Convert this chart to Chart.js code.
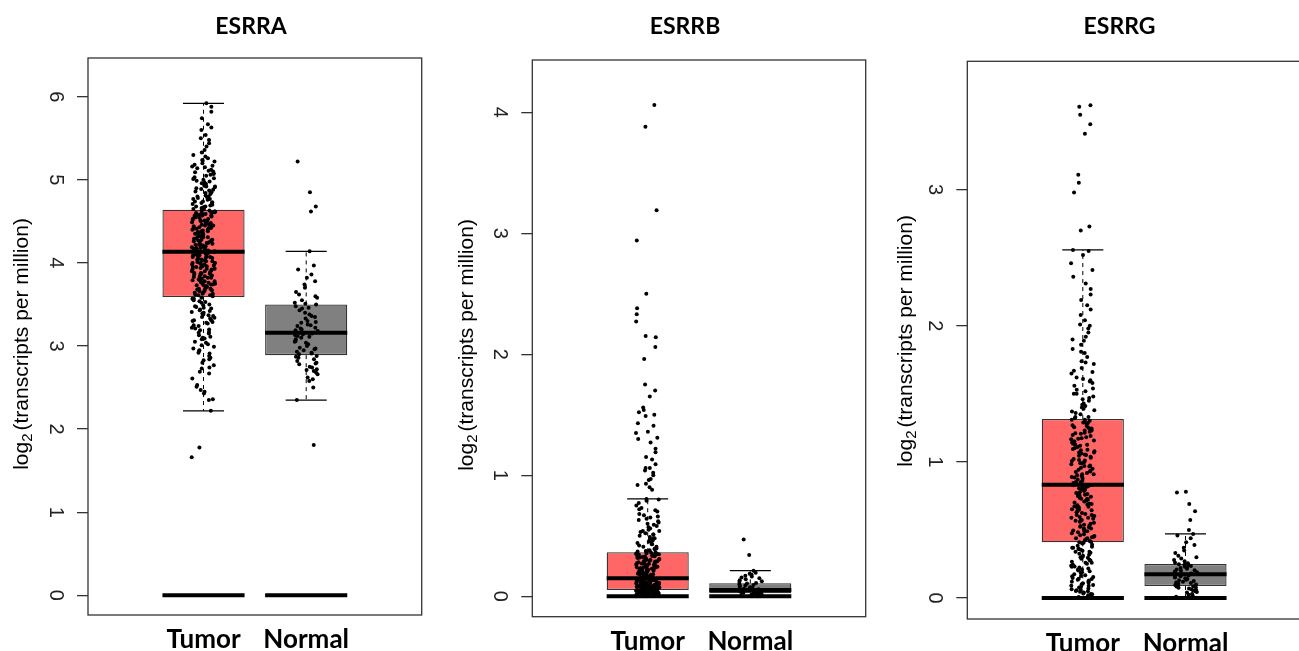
<!DOCTYPE html>
<html>
<head>
<meta charset="utf-8">
<title>ESRRA / ESRRB / ESRRG expression</title>
<script src="https://cdn.jsdelivr.net/npm/chart.js@4.4.1/dist/chart.umd.min.js"></script>
<style>
  html, body { margin: 0; padding: 0; background: #fff; overflow: hidden; }
  #wrap { position: relative; width: 1299px; height: 651px; overflow: hidden; background: #fff; }
  #wrap canvas { position: absolute; left: 0; top: 0; }
</style>
</head>
<body>
<div id="wrap">
  <canvas id="chartA" width="1320" height="651"></canvas>
  <canvas id="chartB" width="1320" height="651"></canvas>
  <canvas id="chartC" width="1320" height="651"></canvas>
</div>
<script>
// ---- data ----
const genes = ["ESRRA", "ESRRB", "ESRRG"];
const groups = ["Tumor", "Normal"];

// box stats: [lower whisker, Q1, median, Q3, upper whisker]
const esrraTumorBox = [2.22, 3.59, 4.135, 4.64, 5.92];
const esrraNormalBox = [2.35, 2.89, 3.16, 3.50, 4.14];
const esrrbTumorBox = [0, 0.052, 0.149, 0.364, 0.804];
const esrrbNormalBox = [0, 0.025, 0.052, 0.107, 0.212];
const esrrgTumorBox = [0, 0.409, 0.833, 1.315, 2.557];
const esrrgNormalBox = [0, 0.088, 0.174, 0.25, 0.472];

// individual samples (log2 TPM)
const esrraTumor = [
  1.66, 1.78, 2.22, 2.35, 2.36, 2.43, 2.45, 2.47, 2.51, 2.53, 2.61, 2.67, 2.69, 2.73, 2.74, 2.77, 2.8, 2.83, 2.84, 2.88,
  2.91, 2.92, 2.95, 2.97, 2.99, 3.01, 3.04, 3.05, 3.08, 3.1, 3.11, 3.13, 3.16, 3.17, 3.19, 3.21, 3.22, 3.25, 3.27, 3.28,
  3.3, 3.31, 3.33, 3.35, 3.37, 3.38, 3.4, 3.42, 3.44, 3.45, 3.47, 3.49, 3.52, 3.54, 3.57,
  3.6, 3.61, 3.63, 3.64, 3.66, 3.67, 3.69, 3.7, 3.71, 3.73, 3.74, 3.75, 3.77, 3.78, 3.79, 3.8, 3.82, 3.83, 3.84, 3.85,
  3.87, 3.88, 3.89, 3.9, 3.91, 3.93, 3.94, 3.95, 3.96, 3.97, 3.98, 3.99, 4.0, 4.01, 4.02, 4.03, 4.04, 4.05, 4.06, 4.07,
  4.08, 4.09, 4.1, 4.11, 4.12, 4.13, 3.62, 3.68, 3.72, 3.76, 3.81, 3.86, 3.92, 4.0, 4.06,
  4.15, 4.16, 4.18, 4.19, 4.2, 4.21, 4.23, 4.24, 4.25, 4.26, 4.28, 4.29, 4.3, 4.31, 4.33, 4.34, 4.35, 4.36, 4.37, 4.39,
  4.4, 4.41, 4.42, 4.43, 4.45, 4.46, 4.47, 4.48, 4.49, 4.5, 4.51, 4.53, 4.54, 4.55, 4.56, 4.57, 4.58, 4.59, 4.6, 4.61,
  4.62, 4.63, 4.17, 4.22, 4.27, 4.32, 4.38, 4.44, 4.52, 4.57, 4.62, 4.19, 4.35, 4.47, 4.6,
  4.65, 4.66, 4.68, 4.69, 4.7, 4.72, 4.73, 4.74, 4.76, 4.77, 4.79, 4.8, 4.81, 4.83, 4.84, 4.86, 4.87, 4.89, 4.9, 4.92,
  4.93, 4.95, 4.97, 4.98, 5.0, 5.02, 5.03, 5.05, 5.07, 5.09, 5.1, 5.12, 5.14, 5.16, 5.18, 5.2, 5.22, 5.24, 5.26, 5.28,
  5.3, 5.33, 5.36, 5.4, 5.44, 5.48, 5.5, 5.54, 5.6, 5.63, 5.67, 5.74, 5.82, 5.88, 5.92,
  3.31, 3.36, 3.41, 3.46, 3.5, 3.55, 3.58, 3.61, 3.64, 3.66, 3.69, 3.72, 3.74, 3.77, 3.79, 3.82, 3.85, 3.87, 3.9, 3.92,
  3.95, 3.97, 4.0, 4.02, 4.04, 4.07, 4.09, 4.12, 4.14, 4.16, 4.19, 4.21, 4.23, 4.26, 4.28, 4.31, 4.33, 4.35, 4.38, 4.4,
  4.43, 4.45, 4.48, 4.5, 4.53, 4.55, 4.58, 4.6, 4.63, 4.65, 4.68, 4.71, 4.74, 4.77, 4.8, 4.84, 4.88, 4.92, 4.96, 5.01,
  5.06, 5.11, 5.17, 5.23, 2.86, 2.94, 3.02, 3.09, 3.15, 3.2, 3.24, 3.29, 3.34, 3.39, 3.43, 3.48, 3.53, 3.57, 3.63, 3.68,
  3.73, 3.78, 3.83, 3.88, 3.93, 3.98, 4.03, 4.08, 4.13, 4.18, 4.22, 4.27, 4.32, 4.37, 4.42, 4.46, 4.51, 4.56, 4.61, 4.67,
  4.72, 4.78, 4.85, 4.91, 4.99, 5.08, 5.15, 3.75, 3.96, 4.24, 4.41, 4.57, 3.86, 4.11
];
const esrraNormal = [
  1.81, 2.35, 2.5, 2.58, 2.6, 2.62, 2.66, 2.68, 2.7, 2.72, 2.74, 2.75, 2.78, 2.8, 2.82, 2.84, 2.86, 2.87, 2.88,
  2.9, 2.92, 2.93, 2.95, 2.96, 2.98, 3.0, 3.02, 3.04, 3.06, 3.08, 3.1, 3.11, 3.13, 3.14, 3.15,
  3.17, 3.18, 3.19, 3.2, 3.22, 3.24, 3.26, 3.28, 3.3, 3.33, 3.36, 3.38, 3.4, 3.43, 3.46, 3.48,
  3.51, 3.52, 3.55, 3.58, 3.62, 3.65, 3.7, 3.74, 3.78, 3.82, 3.86, 3.92, 3.97, 4.14, 4.62, 4.68, 4.85, 5.22,
  2.71, 2.79, 2.91, 2.97, 3.05, 3.12, 3.16, 3.21, 3.25, 3.29, 3.35, 3.45, 3.5, 3.6
];
const esrrbTumor = [
  0.0, 0.002, 0.003, 0.005, 0.006, 0.008, 0.009, 0.011, 0.012, 0.013, 0.015, 0.016, 0.018, 0.019, 0.02, 0.021, 0.023,
  0.024, 0.025, 0.027, 0.028, 0.029, 0.03, 0.031, 0.033, 0.034, 0.035, 0.036, 0.037, 0.038, 0.039, 0.04, 0.041, 0.042,
  0.043, 0.044, 0.045, 0.046, 0.047, 0.048, 0.049, 0.05, 0.051, 0.001, 0.004, 0.007, 0.01, 0.014, 0.017, 0.022, 0.026,
  0.032, 0.038, 0.044, 0.049,
  0.053, 0.055, 0.057, 0.058, 0.06, 0.062, 0.064, 0.065, 0.067, 0.069, 0.071, 0.072, 0.074, 0.076, 0.078, 0.079, 0.081,
  0.083, 0.085, 0.086, 0.088, 0.09, 0.092, 0.093, 0.095, 0.097, 0.099, 0.1, 0.102, 0.104, 0.106, 0.108, 0.11, 0.112,
  0.114, 0.116, 0.118, 0.12, 0.122, 0.124, 0.126, 0.128, 0.13, 0.132, 0.134, 0.136, 0.138, 0.14, 0.142, 0.144, 0.146,
  0.148, 0.061, 0.087, 0.113,
  0.151, 0.155, 0.158, 0.162, 0.166, 0.17, 0.173, 0.177, 0.181, 0.185, 0.189, 0.193, 0.197, 0.2, 0.204, 0.208, 0.212,
  0.216, 0.22, 0.224, 0.228, 0.232, 0.236, 0.24, 0.244, 0.248, 0.252, 0.256, 0.26, 0.264, 0.268, 0.272, 0.276, 0.28,
  0.284, 0.288, 0.292, 0.296, 0.3, 0.304, 0.308, 0.312, 0.316, 0.32, 0.324, 0.328, 0.332, 0.336, 0.34, 0.344, 0.348,
  0.352, 0.356, 0.36, 0.363,
  0.37, 0.375, 0.38, 0.39, 0.395, 0.4, 0.41, 0.42, 0.43, 0.44, 0.45, 0.46, 0.47, 0.48, 0.49, 0.5, 0.51, 0.52, 0.53,
  0.54, 0.55, 0.56, 0.57, 0.59, 0.6, 0.62, 0.63, 0.65, 0.66, 0.68, 0.7, 0.71, 0.73, 0.75, 0.77, 0.79, 0.8, 0.804,
  0.88, 0.9, 0.92, 0.93, 0.96, 0.97, 1.0, 1.02, 1.04, 1.06, 1.06, 1.09, 1.13, 1.15, 1.19, 1.22, 1.27, 1.3, 1.31, 1.35,
  1.36, 1.41, 1.43, 1.49, 1.5, 1.52, 1.54, 1.56, 1.65, 1.7, 1.75, 1.96, 2.06, 2.14, 2.15, 2.27, 2.33, 2.38, 2.5, 2.94,
  3.19, 3.88, 4.06,
  0.005, 0.012, 0.02, 0.028, 0.036, 0.045, 0.055, 0.064, 0.073, 0.082, 0.091, 0.1, 0.11, 0.12, 0.13, 0.14, 0.15, 0.16,
  0.17, 0.18, 0.19, 0.2, 0.21, 0.22, 0.23, 0.24, 0.25, 0.26, 0.27, 0.28, 0.29, 0.3, 0.31, 0.32, 0.33, 0.34, 0.35, 0.37,
  0.39, 0.41, 0.43, 0.45, 0.48, 0.51, 0.54, 0.58, 0.61, 0.64, 0.67, 0.72
];
const esrrbNormal = [
  0.0, 0.003, 0.006, 0.009, 0.011, 0.014, 0.016, 0.019, 0.021, 0.023, 0.024,
  0.026, 0.028, 0.031, 0.033, 0.036, 0.038, 0.041, 0.043, 0.046, 0.048, 0.05,
  0.054, 0.058, 0.062, 0.066, 0.07, 0.075, 0.079, 0.084, 0.089, 0.094, 0.1, 0.105,
  0.11, 0.118, 0.125, 0.133, 0.14, 0.148, 0.156, 0.163, 0.17, 0.178, 0.186, 0.195, 0.21, 0.34, 0.47
];
const esrrgTumor = [
  0.0, 0.008, 0.015, 0.02, 0.027, 0.033, 0.04, 0.046, 0.052, 0.058, 0.064, 0.07, 0.077, 0.083, 0.09, 0.096, 0.102,
  0.108, 0.115, 0.122, 0.128, 0.135, 0.141, 0.148, 0.155, 0.162, 0.168, 0.175, 0.182, 0.189, 0.196, 0.203, 0.21,
  0.217, 0.224, 0.231, 0.238, 0.245, 0.252, 0.259, 0.266, 0.274, 0.281, 0.288, 0.296, 0.303, 0.31, 0.318, 0.325,
  0.333, 0.34, 0.347, 0.355, 0.362, 0.37, 0.377, 0.385, 0.392, 0.4, 0.406,
  0.412, 0.419, 0.425, 0.434, 0.44, 0.447, 0.455, 0.461, 0.469, 0.476, 0.483, 0.49, 0.496, 0.504, 0.511, 0.518, 0.524,
  0.532, 0.539, 0.546, 0.553, 0.561, 0.567, 0.574, 0.582, 0.589, 0.596, 0.603, 0.61, 0.617, 0.624, 0.631, 0.638,
  0.645, 0.652, 0.659, 0.667, 0.674, 0.681, 0.688, 0.695, 0.702, 0.709, 0.716, 0.723, 0.73, 0.737, 0.744, 0.751,
  0.758, 0.765, 0.772, 0.779, 0.786, 0.793, 0.8, 0.807, 0.814, 0.821, 0.829,
  0.838, 0.846, 0.853, 0.862, 0.87, 0.878, 0.886, 0.894, 0.902, 0.91, 0.918, 0.926, 0.934, 0.942, 0.95, 0.958, 0.966,
  0.974, 0.982, 0.99, 0.998, 1.006, 1.014, 1.022, 1.03, 1.038, 1.046, 1.054, 1.062, 1.07, 1.078, 1.086, 1.094,
  1.102, 1.11, 1.118, 1.126, 1.134, 1.142, 1.15, 1.158, 1.166, 1.174, 1.182, 1.19, 1.198, 1.206, 1.214, 1.222,
  1.23, 1.238, 1.246, 1.254, 1.262, 1.27, 1.278, 1.286, 1.294, 1.302, 1.31,
  1.32, 1.33, 1.35, 1.36, 1.38, 1.39, 1.41, 1.43, 1.45, 1.46, 1.48, 1.5, 1.52, 1.54, 1.56, 1.58, 1.6, 1.62, 1.65,
  1.67, 1.69, 1.72, 1.74, 1.77, 1.8, 1.83, 1.86, 1.89, 1.92, 1.95, 1.98, 2.01, 2.04, 2.08, 2.12, 2.15, 2.19, 2.23,
  2.27, 2.31, 2.36, 2.41, 2.46, 2.52, 2.55, 2.557, 2.7, 2.73, 2.98, 3.05, 3.11, 3.41, 3.48, 3.55, 3.61, 3.62,
  0.03, 0.06, 0.09, 0.12, 0.16, 0.19, 0.23, 0.26, 0.3, 0.34, 0.37, 0.41, 0.45, 0.49, 0.53, 0.57, 0.61, 0.65, 0.69,
  0.73, 0.77, 0.81, 0.85, 0.89, 0.93, 0.97, 1.01, 1.05, 1.09, 1.13, 1.17, 1.21, 1.25, 1.29, 1.33, 1.37, 1.42, 1.47,
  1.53, 1.59, 1.66, 1.73, 1.81, 1.9, 2.0, 0.05, 0.14, 0.21, 0.28, 0.36, 0.44, 0.51, 0.59, 0.67, 0.75, 0.83, 0.91,
  0.99, 1.07, 1.15, 1.23, 1.31, 1.4, 1.5, 1.61
];
const esrrgNormal = [
  0.0, 0.01, 0.02, 0.025, 0.03, 0.04, 0.045, 0.05, 0.055, 0.06, 0.065, 0.07, 0.075, 0.08, 0.085, 0.087,
  0.09, 0.095, 0.1, 0.105, 0.11, 0.115, 0.12, 0.125, 0.13, 0.135, 0.14, 0.145, 0.15, 0.155, 0.16, 0.165, 0.17,
  0.175, 0.18, 0.185, 0.19, 0.195, 0.2, 0.205, 0.21, 0.215, 0.22, 0.225, 0.23, 0.235, 0.24, 0.245, 0.249,
  0.255, 0.26, 0.27, 0.28, 0.29, 0.3, 0.31, 0.33, 0.35, 0.37, 0.39, 0.41, 0.44, 0.46, 0.47,
  0.5, 0.573, 0.637, 0.69, 0.776, 0.78
];

const esrraTicks = [0, 1, 2, 3, 4, 5, 6];
const esrrbTicks = [0, 1, 2, 3, 4];
const esrrgTicks = [0, 1, 2, 3];
const esrraRange = [-0.237, 6.466];
const esrrbRange = [-0.169, 4.432];
const esrrgRange = [-0.154, 3.943];
const xRange = [-0.125, 3.125];

// ---- look ----
const TUMOR_FILL = "#ff6666";
const NORMAL_FILL = "#808080";
const EDGE = "#333333";
const BOX_HALF = 0.4;
const CAP_HALF = 0.2;
const JITTER = 0.115;
const CANVAS_H = 651;
const Y_AXIS_W = 60;

const panels = [
  { id: "chartA", gene: genes[0], boxes: [esrraTumorBox, esrraNormalBox], samples: [esrraTumor, esrraNormal],
    ticks: esrraTicks, range: esrraRange, frame: { left: 88, top: 58, right: 421.7, bottom: 615 },
    titleX: 251, yTitle: { x: 22, y: 344 } },
  { id: "chartB", gene: genes[1], boxes: [esrrbTumorBox, esrrbNormalBox], samples: [esrrbTumor, esrrbNormal],
    ticks: esrrbTicks, range: esrrbRange, frame: { left: 532.3, top: 60, right: 865.7, bottom: 616.7 },
    titleX: 685, yTitle: { x: 467, y: 345 } },
  { id: "chartC", gene: genes[2], boxes: [esrrgTumorBox, esrrgNormalBox], samples: [esrrgTumor, esrrgNormal],
    ticks: esrrgTicks, range: esrrgRange, frame: { left: 967.3, top: 61.3, right: 1301, bottom: 619 },
    titleX: 1119.5, yTitle: { x: 906, y: 341 } }
];

function segment(x1, y1, x2, y2, width, dash, order) {
  return {
    type: "line",
    data: [{ x: x1, y: y1 }, { x: x2, y: y2 }],
    borderColor: "#000",
    borderWidth: width,
    borderDash: dash,
    borderCapStyle: "butt",
    pointRadius: 0,
    order
  };
}

// horizontal spread of the strip, a fixed hash of the sample index
function jitter(i, g) {
  const h = Math.sin(i * 127.1 + g * 311.7) * 43758.5453;
  return (h - Math.floor(h) - 0.5) * 2 * JITTER;
}

function buildDatasets(panel) {
  const sets = [];
  panel.samples.forEach((values, g) => {
    sets.push({
      type: "scatter",
      data: values.map((v, i) => ({ x: g + 1 + jitter(i, g), y: v })),
      pointRadius: 2,
      pointBackgroundColor: "#000",
      pointBorderWidth: 0,
      order: 0
    });
  });
  panel.boxes.forEach((b, g) => {
    const x = g + 1;
    sets.push(segment(x - BOX_HALF, b[2], x + BOX_HALF, b[2], 4, [], 1));
    sets.push(segment(x - BOX_HALF, 0, x + BOX_HALF, 0, 4, [], 1));
    sets.push(segment(x, b[3], x, b[4], 1, [4, 4], 2));
    sets.push(segment(x, b[1], x, b[0], 1, [4, 4], 2));
    sets.push(segment(x - CAP_HALF, b[4], x + CAP_HALF, b[4], 1.3, [], 2));
    sets.push(segment(x - CAP_HALF, b[0], x + CAP_HALF, b[0], 1.3, [], 2));
  });
  sets.push({
    type: "bar",
    data: panel.boxes.map((b, g) => ({ x: g + 1, y: [b[1], b[3]] })),
    backgroundColor: [TUMOR_FILL, NORMAL_FILL],
    borderColor: EDGE,
    borderWidth: 1.3,
    borderSkipped: false,
    categoryPercentage: 1,
    barPercentage: 2 * BOX_HALF,
    order: 5
  });
  return sets;
}

const decorations = {
  id: "decorations",
  afterDraw(chart, args, opts) {
    const { ctx, chartArea: a } = chart;
    ctx.save();
    ctx.strokeStyle = EDGE;
    ctx.lineWidth = 1.3;
    ctx.strokeRect(a.left, a.top, a.right - a.left, a.bottom - a.top);

    ctx.fillStyle = "#000";
    ctx.font = "bold 23px Lato";
    ctx.textAlign = "center";
    ctx.textBaseline = "alphabetic";
    ctx.fillText(opts.title, opts.titleX, 33.5);

    // y title: log2 (transcripts per million), subscript drawn by hand
    const main = "21px 'Liberation Sans'";
    const sub = "15px 'Liberation Sans'";
    const p1 = "log", p2 = "2", p3 = "(transcripts per million)";
    ctx.font = main;
    const w1 = ctx.measureText(p1).width;
    const w3 = ctx.measureText(p3).width;
    ctx.font = sub;
    const w2 = ctx.measureText(p2).width + 3;
    const total = w1 + w2 + w3;
    ctx.translate(opts.yTitle.x, opts.yTitle.y);
    ctx.rotate(-Math.PI / 2);
    ctx.textAlign = "left";
    ctx.textBaseline = "middle";
    let cx = -total / 2;
    ctx.font = main;
    ctx.fillText(p1, cx, 0);
    cx += w1;
    ctx.font = sub;
    ctx.fillText(p2, cx, 6);
    cx += w2;
    ctx.font = main;
    ctx.fillText(p3, cx, 0);
    ctx.restore();
  }
};

panels.forEach((panel) => {
  const f = panel.frame;
  const xAxisH = CANVAS_H - f.bottom;
  new Chart(document.getElementById(panel.id), {
    type: "scatter",
    data: { datasets: buildDatasets(panel) },
    options: {
      responsive: false,
      animation: false,
      events: [],
      layout: { padding: { left: f.left - Y_AXIS_W, top: f.top, right: 1320 - f.right, bottom: 0 } },
      scales: {
        x: {
          type: "linear",
          min: xRange[0],
          max: xRange[1],
          offset: false,
          afterBuildTicks: (scale) => { scale.ticks = groups.map((g, i) => ({ value: i + 1 })); },
          afterFit: (scale) => { scale.height = xAxisH; },
          grid: { display: false, drawTicks: false, offset: false },
          border: { display: false },
          ticks: {
            autoSkip: false,
            maxRotation: 0,
            padding: 9,
            color: "#000",
            font: { family: "Lato", size: 26, weight: "bold" },
            callback: (value, index) => groups[index]
          }
        },
        y: {
          type: "linear",
          min: panel.range[0],
          max: panel.range[1],
          afterBuildTicks: (scale) => { scale.ticks = panel.ticks.map((v) => ({ value: v })); },
          afterFit: (scale) => { scale.width = Y_AXIS_W; },
          grid: { drawOnChartArea: false, drawTicks: true, tickLength: 11, color: EDGE, lineWidth: 1.3 },
          border: { display: false },
          ticks: {
            minRotation: -90,
            maxRotation: -90,
            crossAlign: "center",
            padding: 16,
            color: "#222",
            font: { family: "Liberation Sans", size: 20 },
            callback: (value) => String(value)
          }
        }
      },
      plugins: {
        legend: { display: false },
        tooltip: { enabled: false },
        decorations: { title: panel.gene, titleX: panel.titleX, yTitle: panel.yTitle }
      }
    },
    plugins: [decorations]
  });
});
</script>
</body>
</html>
